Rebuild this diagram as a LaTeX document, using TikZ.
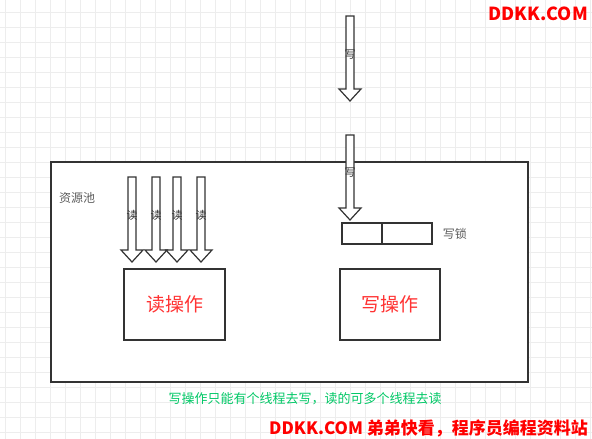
\documentclass[tikz,border=0pt]{standalone}
\usepackage{fontspec}
\setmainfont{Noto Sans CJK SC}
\usepackage{xcolor}
\usetikzlibrary{positioning}
\definecolor{linegray}{HTML}{333333}
\definecolor{opred}{HTML}{FF3333}
\definecolor{notegreen}{HTML}{00C866}
\definecolor{gridgray}{HTML}{EDEDED}

% hollow block arrow: x, top y, tip y
\newcommand{\blockarrow}[3]{%
  \draw[hollowarrow] (#1-4,#2) -- (#1+4,#2) -- (#1+4,#3-12) -- (#1+11,#3-12)
    -- (#1,#3) -- (#1-11,#3-12) -- (#1-4,#3-12) -- cycle;}

\begin{document}
\begin{tikzpicture}[
    x=1pt, y=-1pt,
    gridline/.style={draw=gridgray, line width=0.8pt},
    poolbox/.style={draw=linegray, fill=white, line width=1.4pt, minimum width=477pt, minimum height=220pt},
    opbox/.style={draw=linegray, fill=white, line width=1.4pt, minimum height=71pt, text=opred, font=\fontsize{19}{19}\selectfont},
    lockcell/.style={draw=linegray, fill=white, line width=1.4pt, minimum height=21pt, inner sep=0pt},
    hollowarrow/.style={draw=linegray, fill=white, line width=1.2pt, line join=miter},
    arrowtext/.style={text=linegray, inner sep=0pt, font=\fontsize{11}{11}\selectfont},
    plaintext/.style={text=linegray!80, inner sep=0pt, font=\fontsize{12}{12}\selectfont},
    watermark/.style={text=red, inner sep=0pt, font=\bfseries\fontsize{18}{18}\selectfont}
]
\useasboundingbox (0,0) rectangle (592,439);
\fill[white] (0,0) rectangle (592,439);

% ===== GRID =====
\foreach \gx in {5,20,...,590} \draw[gridline] (\gx,0) -- (\gx,439);
\foreach \gy in {12,27,...,437} \draw[gridline] (0,\gy) -- (592,\gy);

% ===== POOL =====
\node[poolbox] (pool) at (289.5,272) {};
\node[plaintext, anchor=west] (poollabel) at (59,198) {资源池};

\node[opbox, minimum width=101pt] (readop) at (174.5,304.5) {读操作};
\node[opbox, minimum width=100pt] (writeop) at (390,304.5) {写操作};

\node[lockcell, minimum width=90pt] (lock) at (387,233.5) {};
\draw[draw=linegray, line width=1.4pt] (382,0 |- lock.north) -- (382,0 |- lock.south);
\node[plaintext, right=10pt of lock] (locklabel) {写锁};

% ===== READ ARROWS =====
\foreach \rx [count=\i] in {132,156,177,201} {
  \blockarrow{\rx}{177}{262}
  \node[arrowtext] (read\i) at (\rx,215) {读};
}

% ===== WRITE ARROWS =====
\blockarrow{350}{16}{101}
\node[arrowtext] (writeout) at (350,55) {写};
\blockarrow{350}{135}{220}
\node[arrowtext] (writein) at (350,173) {写};

% ===== NOTES =====
\node[text=notegreen, inner sep=0pt, font=\fontsize{13}{13}\selectfont] (note) at (305,399) {写操作只能有个线程去写，读的可多个线程去读};
\node[watermark, anchor=east] (marktop) at (588,14) {DDKK.COM};
\node[watermark, anchor=east, font=\bfseries\fontsize{17}{17}\selectfont] (markbottom) at (588,428) {DDKK.COM 弟弟快看，程序员编程资料站};
\end{tikzpicture}
\end{document}
